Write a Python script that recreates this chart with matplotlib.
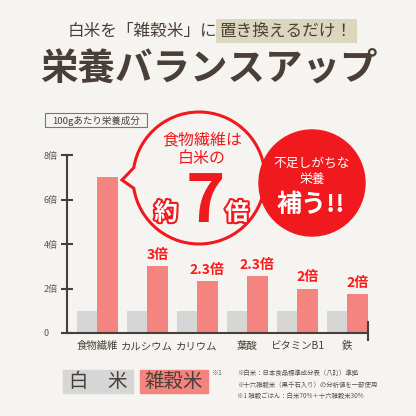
import matplotlib
matplotlib.use('Agg')
import matplotlib.pyplot as plt
import numpy as np
from matplotlib.patches import Rectangle, Circle, PathPatch
from matplotlib.path import Path
import matplotlib.patheffects as pe

plt.rcParams['font.family'] = ['Noto Sans CJK JP', 'DejaVu Sans']

# data
categories = ['食物繊維', 'カルシウム', 'カリウム', '葉酸', 'ビタミンB1', '鉄']
white_rice = [1, 1, 1, 1, 1, 1]
zakkoku = [7.0, 3.0, 2.35, 2.55, 2.0, 1.75]
value_labels = ['', '3倍', '2.3倍', '2.3倍', '2倍', '2倍']
yticks = [0, 2, 4, 6, 8]
ytick_labels = ['0', '2倍', '4倍', '6倍', '8倍']
notes = ['※白米：日本食品標準成分表（八訂）準拠',
         '※十六雑穀米（黒千石入り）の分析値を一部使用',
         '※1 雑穀ごはん：白米70%＋十六雑穀米30%']

bg = '#f6f4f0'
dark = '#4a3f38'
gray_bar = '#d6d6d6'
red_bar = '#f4847f'
red = '#f01a1e'

fig = plt.figure(figsize=(4.16, 4.16), dpi=100, facecolor=bg)

# overlay in pixel coords
ov = fig.add_axes([0, 0, 1, 1])
ov.set_xlim(0, 416)
ov.set_ylim(416, 0)
ov.axis('off')

# headline
ov.text(217, 31, '白米を「雑穀米」に', ha='right', va='center',
        fontsize=12, color=dark, zorder=2)
ov.text(220, 31, '置き換えるだけ！', ha='left', va='center',
        fontsize=12, color=dark, zorder=2,
        bbox=dict(fc='#dcd6bf', ec='none', pad=2.8))
ov.text(209, 68, '栄養バランスアップ', ha='center', va='center',
        fontsize=27, color=dark, fontweight='bold')

# "100g" box
ov.add_patch(Rectangle((45, 113), 102, 14, fill=False, ec='#777777', lw=0.8))
ov.text(96, 120.5, '100gあたり栄養成分', ha='center', va='center', fontsize=6.8, color=dark)

# main chart
ax = fig.add_axes([67 / 416, 1 - 333 / 416, 301 / 416, 178 / 416])
ax.set_facecolor('none')
x = np.arange(len(categories))
w = 0.41
ax.bar(x - w / 2, white_rice, w, color=gray_bar)
ax.bar(x + w / 2, zakkoku, w, color=red_bar)
ax.set_xlim(-0.6, 5.42)
ax.set_ylim(0, 8)
for s in ['top', 'right']:
    ax.spines[s].set_visible(False)
for s in ['left', 'bottom']:
    ax.spines[s].set_color(dark)
    ax.spines[s].set_linewidth(1.5)
ax.set_yticks(yticks)
ax.set_yticklabels(ytick_labels, ha='left')
ax.tick_params(axis='y', direction='inout', length=8, width=1.5, color=dark,
               labelsize=6.5, labelcolor='#555555', pad=13)
ax.set_xticks(x)
ax.set_xticklabels(categories)
ax.tick_params(axis='x', length=0, labelsize=7.5, labelcolor=dark, pad=6)
ax.plot([1, 1], [-0.04, 0.06], transform=ax.transAxes, color=dark, lw=1.5, clip_on=False)

for xi, v, lab in zip(x, zakkoku, value_labels):
    if lab:
        ax.annotate(lab, (xi + w / 2, v), xytext=(0, 3), textcoords='offset points',
                    ha='center', va='bottom', color='#ff1a1a', fontsize=10, fontweight='bold')

# speech bubble
cx, cy, r = 199, 178, 66
arc = Path.arc(189, 531)
verts = list(arc.vertices * r + [cx, cy]) + [(122, 180), (0, 0)]
codes = list(arc.codes) + [Path.LINETO, Path.CLOSEPOLY]
ov.add_patch(PathPatch(Path(verts, codes), fc='none', ec=red, lw=2.2, zorder=3))
ov.text(202, 140, '食物繊維は', ha='center', va='center', fontsize=11.5, color=red, zorder=4)
ov.text(202, 158, '白米の', ha='center', va='center', fontsize=11.5, color=red, zorder=4)
ov.text(205, 203, '7', ha='center', va='center', fontsize=48, color=red,
        fontweight='bold', zorder=4)
outline = [pe.withStroke(linewidth=3, foreground=red)]
ov.text(166, 213, '約', ha='center', va='center', fontsize=17, color='white',
        fontweight='bold', path_effects=outline, zorder=4)
ov.text(237, 213, '倍', ha='center', va='center', fontsize=17, color='white',
        fontweight='bold', path_effects=outline, zorder=4)

# red circle
ov.add_patch(Circle((312, 183), 53, color=red, zorder=5))
ov.text(312, 163, '不足しがちな', ha='center', va='center', fontsize=9.2, color='white', zorder=6)
ov.text(312, 180, '栄養', ha='center', va='center', fontsize=9.2, color='white', zorder=6)
ov.text(311, 205, '補う!!', ha='center', va='center', fontsize=18, color='white',
        fontweight='bold', zorder=6)

# legend
ov.add_patch(Rectangle((63, 370), 70, 23, color=gray_bar))
ov.text(98, 381.5, '白　米', ha='center', va='center', fontsize=14, color=dark)
ov.add_patch(Rectangle((140, 370), 68, 23, color=red_bar))
ov.text(174, 381.5, '雑穀米', ha='center', va='center', fontsize=14, color=dark)
ov.text(211, 373, '※1', ha='left', va='center', fontsize=5, color='#666666')
for i, n in enumerate(notes):
    ov.text(237, 373 + 11.5 * i, n, ha='left', va='center', fontsize=4.6, color='#555555')

fig.savefig('out.png', dpi=100, facecolor=bg)
